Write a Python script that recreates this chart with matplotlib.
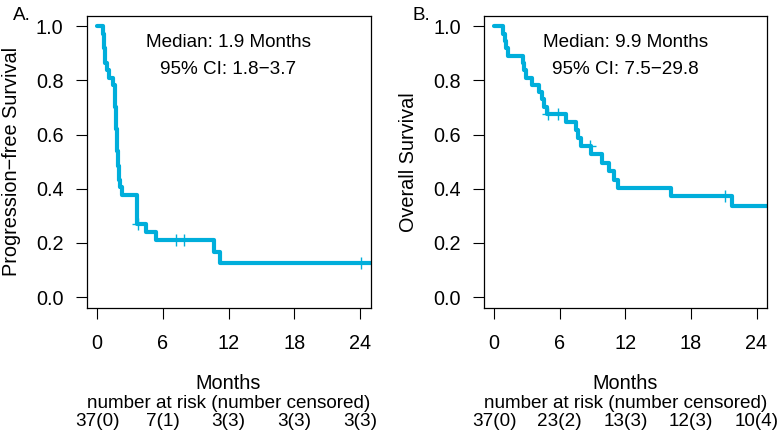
import matplotlib
matplotlib.use("Agg")
import matplotlib.pyplot as plt
import matplotlib.transforms as mtransforms

plt.rcParams['font.family'] = ['Liberation Sans', 'DejaVu Sans']

# ---------------- data ----------------
# A. Progression-free survival (step times in months, survival after step)
pfs_times = [0, 0.55, 0.60, 0.65, 0.70, 0.75, 0.95, 1.05, 1.45,
             1.62, 1.65, 1.68, 1.71, 1.74, 1.77, 1.80, 1.83, 1.86, 1.90,
             1.94, 1.99, 2.05, 2.12, 2.30, 3.62, 3.64, 3.66, 3.68,
             4.44, 5.34, 10.7, 11.2]
pfs_surv = [1.0, 0.973, 0.946, 0.919, 0.892, 0.865, 0.838, 0.811, 0.784,
            0.757, 0.730, 0.703, 0.676, 0.649, 0.622, 0.595, 0.568, 0.541, 0.514,
            0.486, 0.459, 0.432, 0.405, 0.378, 0.351, 0.324, 0.297, 0.270,
            0.240, 0.210, 0.168, 0.126]
pfs_end = 30.0
pfs_cens_t = [3.77, 7.25, 7.90, 24.05]
pfs_cens_s = [0.270, 0.210, 0.210, 0.126]
pfs_risk = ["37(0)", "7(1)", "3(3)", "3(3)", "3(3)"]

# B. Overall survival
os_times = [0, 0.85, 0.95, 1.10, 1.25, 2.65, 2.75, 2.90, 3.50, 4.10, 4.40,
            4.60, 4.80, 6.60, 7.50, 7.70, 7.90, 8.90, 9.85, 10.5, 11.0,
            11.35, 16.2, 21.8]
os_surv = [1.0, 0.973, 0.946, 0.919, 0.892, 0.865, 0.838, 0.811, 0.784, 0.757,
           0.730, 0.703, 0.676, 0.646, 0.617, 0.588, 0.558, 0.527, 0.496,
           0.465, 0.434, 0.403, 0.372, 0.338]
os_end = 30.0
os_cens_t = [4.95, 5.85, 8.75, 21.1]
os_cens_s = [0.676, 0.676, 0.558, 0.372]
os_risk = ["37(0)", "23(2)", "13(3)", "12(3)", "10(4)"]

risk_times = [0, 6, 12, 18, 24]
xticks = [0, 6, 12, 18, 24]
yticks = [0.0, 0.2, 0.4, 0.6, 0.8, 1.0]

panels = [
    dict(times=pfs_times, surv=pfs_surv, end=pfs_end, ct=pfs_cens_t, cs=pfs_cens_s,
         risk=pfs_risk, ylabel="Progression\u2212free Survival", tag="A.",
         med="Median: 1.9 Months", ci="95% CI: 1.8\u22123.7"),
    dict(times=os_times, surv=os_surv, end=os_end, ct=os_cens_t, cs=os_cens_s,
         risk=os_risk, ylabel="Overall Survival", tag="B.",
         med="Median: 9.9 Months", ci="95% CI: 7.5\u221229.8"),
]

# ---------------- layout ----------------
W, H = 783, 443
fig = plt.figure(figsize=(W / 100, H / 100), dpi=100)
color = '#00AEDB'
fs_tick = 14.3
fs_text = 13.6
fs_lab = 14.3

ax_px = [(86.5, 370.5), (483.7, 767.0)]
top_px, bot_px = 15.5, 308.0
ylabel_x = [11.5, 409.0]
tag_x = [13.0, 412.0]

for i, p in enumerate(panels):
    l, r = ax_px[i]
    ax = fig.add_axes([l / W, 1 - bot_px / H, (r - l) / W, (bot_px - top_px) / H])
    xs = list(p['times']) + [p['end']]
    ys = list(p['surv']) + [p['surv'][-1]]
    ax.plot(xs, ys, drawstyle='steps-post', color=color, lw=3.0,
            solid_capstyle='round', solid_joinstyle='round')
    ax.plot(p['ct'], p['cs'], linestyle='none', marker='+', ms=9, mew=1.0, color=color)
    ax.set_xlim(-0.96, 24.96)
    ax.set_ylim(-0.04, 1.04)
    ax.set_xticks(xticks)
    ax.set_xticklabels([str(t) for t in xticks])
    ax.set_yticks(yticks)
    ax.set_yticklabels([f"{v:.1f}" for v in yticks])
    ax.tick_params(axis='both', direction='out', length=8, width=0.8,
                   labelsize=fs_tick, color='black')
    ax.tick_params(axis='x', pad=10.5)
    ax.tick_params(axis='y', pad=8.5)
    for s in ax.spines.values():
        s.set_linewidth(0.9)
        s.set_color('black')

    ax.text(0.5, 1 - (46.7 - top_px) / (bot_px - top_px), p['med'], transform=ax.transAxes,
            ha='center', va='baseline', fontsize=fs_text)
    ax.text(0.5, 1 - (74.3 - top_px) / (bot_px - top_px), p['ci'], transform=ax.transAxes,
            ha='center', va='baseline', fontsize=fs_text)

    fig.text(ylabel_x[i] / W, 1 - ((top_px + bot_px) / 2) / H, p['ylabel'],
             rotation=90, ha='center', va='center', fontsize=fs_lab)
    fig.text(tag_x[i] / W, 1 - 19.5 / H, p['tag'], ha='left', va='baseline', fontsize=fs_text)

    trans = mtransforms.blended_transform_factory(ax.transData, fig.transFigure)
    fig.text((l + r) / 2 / W, 1 - 389.0 / H, "Months", ha='center', va='baseline',
             fontsize=fs_lab)
    fig.text((l + r) / 2 / W, 1 - 407.7 / H, "number at risk (number censored)",
             ha='center', va='baseline', fontsize=fs_text)
    for t, lab in zip(risk_times, p['risk']):
        ax.text(t, 1 - 426.5 / H, lab, transform=trans, ha='center', va='baseline',
                fontsize=fs_text)

fig.savefig("out.png", dpi=100)
